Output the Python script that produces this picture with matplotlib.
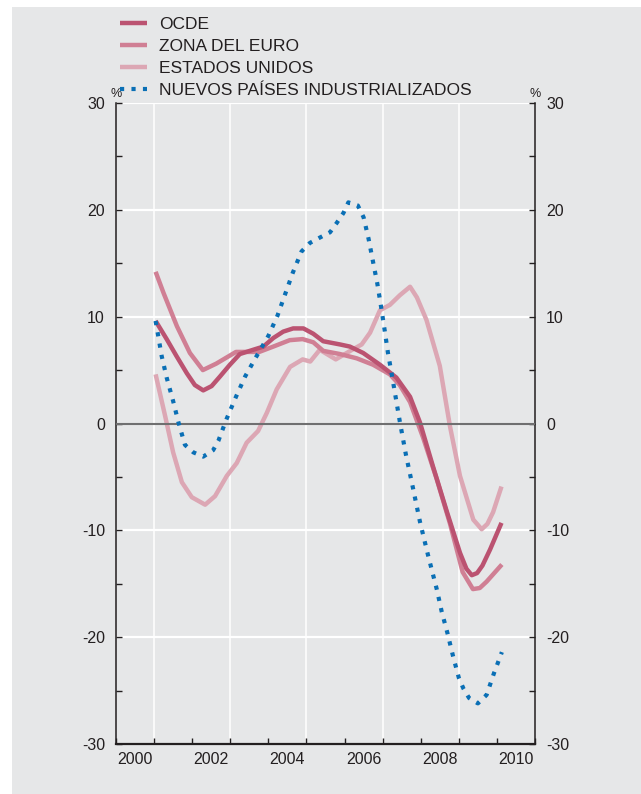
import matplotlib

matplotlib.use("Agg")
import matplotlib.pyplot as plt
from matplotlib.patches import Rectangle

plt.rcParams["font.family"] = ["Liberation Sans", "DejaVu Sans"]
plt.rcParams["axes.unicode_minus"] = False

# Series (decimal years, %)
ocde_years = [2001.04, 2001.33, 2001.59, 2001.86, 2002.07, 2002.29, 2002.51, 2002.73,
              2002.99, 2003.25, 2003.6, 2003.87, 2004.13, 2004.39, 2004.65, 2004.92,
              2005.18, 2005.44, 2005.88, 2006.14, 2006.49, 2006.93, 2007.36, 2007.72,
              2007.98, 2008.32, 2008.69, 2009.03, 2009.2, 2009.34, 2009.48, 2009.62,
              2009.82, 2010.12]
ocde_vals = [9.6, 7.9, 6.3, 4.7, 3.6, 3.1, 3.5, 4.4,
             5.5, 6.5, 6.9, 7.2, 8.0, 8.6, 8.9, 8.9,
             8.4, 7.7, 7.4, 7.2, 6.6, 5.5, 4.3, 2.5,
             0.1, -4.0, -8.3, -12.1, -13.6, -14.2, -14.0, -13.3, -11.8, -9.3]

euro_years = [2001.04, 2001.25, 2001.6, 2001.94, 2002.28, 2002.63, 2003.15, 2003.76,
              2004.13, 2004.56, 2004.9, 2005.18, 2005.44, 2005.88, 2006.32, 2006.75,
              2007.19, 2007.45, 2007.72, 2008.06, 2008.42, 2008.77, 2009.1, 2009.37,
              2009.55, 2009.73, 2010.13]
euro_vals = [14.2, 12.2, 9.1, 6.6, 5.0, 5.6, 6.7, 6.7,
             7.2, 7.8, 7.9, 7.6, 6.8, 6.5, 6.1, 5.5,
             4.6, 3.6, 2.0, -1.3, -5.2, -9.4, -13.9, -15.5,
             -15.4, -14.8, -13.2]

usa_years = [2001.04, 2001.29, 2001.5, 2001.73, 2001.99, 2002.34, 2002.6, 2002.91,
             2003.17, 2003.43, 2003.73, 2003.96, 2004.22, 2004.57, 2004.9, 2005.1,
             2005.35, 2005.77, 2006.2, 2006.45, 2006.67, 2006.93, 2007.19, 2007.45,
             2007.72, 2007.9, 2008.15, 2008.5, 2008.77, 2009.03, 2009.38, 2009.6,
             2009.75, 2009.9, 2010.12]
usa_vals = [4.6, 0.7, -2.7, -5.5, -6.9, -7.6, -6.8, -4.9,
            -3.7, -1.8, -0.7, 1.0, 3.2, 5.3, 6.0, 5.8,
            6.9, 6.0, 6.9, 7.4, 8.5, 10.6, 11.1, 12.0,
            12.8, 11.8, 9.7, 5.4, -0.3, -4.9, -9.0, -9.9,
            -9.4, -8.3, -5.9]

npi_years = [2001.04, 2001.2, 2001.33, 2001.5, 2001.64, 2001.81, 2002.03, 2002.29,
             2002.55, 2002.69, 2002.9, 2003.15, 2003.39, 2003.69, 2004.0, 2004.24,
             2004.45, 2004.64, 2004.87, 2005.09, 2005.35, 2005.62, 2005.8, 2005.97,
             2006.1, 2006.35, 2006.5, 2006.63, 2006.75, 2006.86, 2006.96, 2007.05,
             2007.14, 2007.24, 2007.45, 2007.61, 2007.8, 2007.98, 2008.19, 2008.42,
             2008.55, 2008.7, 2008.85, 2009.0, 2009.12, 2009.27, 2009.5, 2009.73,
             2009.92, 2010.13]
npi_vals = [9.6, 6.3, 4.3, 2.1, 0.1, -2.0, -2.7, -3.1,
            -2.5, -1.6, 0.4, 2.5, 4.4, 6.3, 8.2, 10.1,
            12.2, 14.1, 16.1, 16.9, 17.4, 17.9, 18.8, 19.7,
            20.7, 20.4, 19.3, 17.3, 15.1, 13.1, 10.9, 8.8,
            6.6, 4.6, 0.2, -2.9, -6.1, -9.2, -12.3, -15.5,
            -17.6, -19.6, -21.8, -23.8, -24.8, -25.7, -26.2, -25.4,
            -23.4, -21.4]

labels = ["OCDE", "ZONA DEL EURO", "ESTADOS UNIDOS", "NUEVOS PAÍSES INDUSTRIALIZADOS"]
year_labels = [2000, 2002, 2004, 2006, 2008, 2010]

BG = "#e6e7e8"
INK = "#231f20"

fig = plt.figure(figsize=(6.41, 7.94), dpi=100, facecolor="white")
fig.patches.append(Rectangle((12 / 641, 0), 1, 1 - 7 / 794, transform=fig.transFigure,
                             facecolor=BG, edgecolor="none", zorder=-5))
ax = fig.add_axes([116 / 641, 50 / 794, 419 / 641, 641 / 794])
ax.set_facecolor(BG)

ax.set_xlim(2000, 2011)
ax.set_ylim(-30, 30)

# white grid
for yr in range(2001, 2011, 2):
    ax.axvline(yr, color="white", lw=1.1, zorder=1)
for v in [-20, -10, 10, 20, 30]:
    ax.axhline(v, color="white", lw=1.6, zorder=1)

l_us, = ax.plot(usa_years, usa_vals, color="#dca7b4", lw=3.2, solid_capstyle="butt",
                solid_joinstyle="round", zorder=2)
l_eu, = ax.plot(euro_years, euro_vals, color="#d07f94", lw=3.2, solid_capstyle="butt",
                solid_joinstyle="round", zorder=3)
l_oc, = ax.plot(ocde_years, ocde_vals, color="#bb5371", lw=3.2, solid_capstyle="butt",
                solid_joinstyle="round", zorder=4)
ax.axhline(0, color="#6f6f70", lw=1.5, zorder=5)
l_np, = ax.plot(npi_years, npi_vals, color="#0a6fb5", lw=3.0, linestyle=(0, (1, 1.75)),
                dash_capstyle="butt", zorder=6)

# ticks
ax.set_xticks(range(2000, 2012))
ax.set_xticklabels([])
ax.set_xticks([y + 0.5 for y in year_labels], minor=True)
ax.set_xticklabels([str(y) for y in year_labels], minor=True)
ax.tick_params(axis="x", which="major", direction="in", length=4, width=1, color=INK)
ax.tick_params(axis="x", which="minor", length=0, pad=6, labelsize=11.5, labelcolor=INK)

ax.set_yticks(range(-30, 31, 10))
ax.set_yticks(range(-25, 30, 10), minor=True)
ax.tick_params(axis="y", which="both", direction="in", length=4, width=1, color=INK,
               left=True, right=True, labelleft=True, labelright=True,
               labelsize=11.5, labelcolor=INK, pad=8)

for side in ["left", "right"]:
    ax.spines[side].set_color(INK)
    ax.spines[side].set_linewidth(1.1)
ax.spines["bottom"].set_color(INK)
ax.spines["bottom"].set_linewidth(1.6)
ax.spines["top"].set_visible(False)

ax.text(0, 1.005, "%", transform=ax.transAxes, ha="center", va="bottom",
        fontsize=9, color=INK)
ax.text(1, 1.005, "%", transform=ax.transAxes, ha="center", va="bottom",
        fontsize=9, color=INK)

fig.legend([l_oc, l_eu, l_us, l_np], labels, loc="upper left",
           bbox_to_anchor=(111 / 641, 1 - 8 / 794), frameon=False, fontsize=12.5,
           handlelength=1.6, handletextpad=0.65, labelspacing=0.4, borderpad=0,
           labelcolor=INK)

fig.savefig("out.png", dpi=100, facecolor=fig.get_facecolor())
